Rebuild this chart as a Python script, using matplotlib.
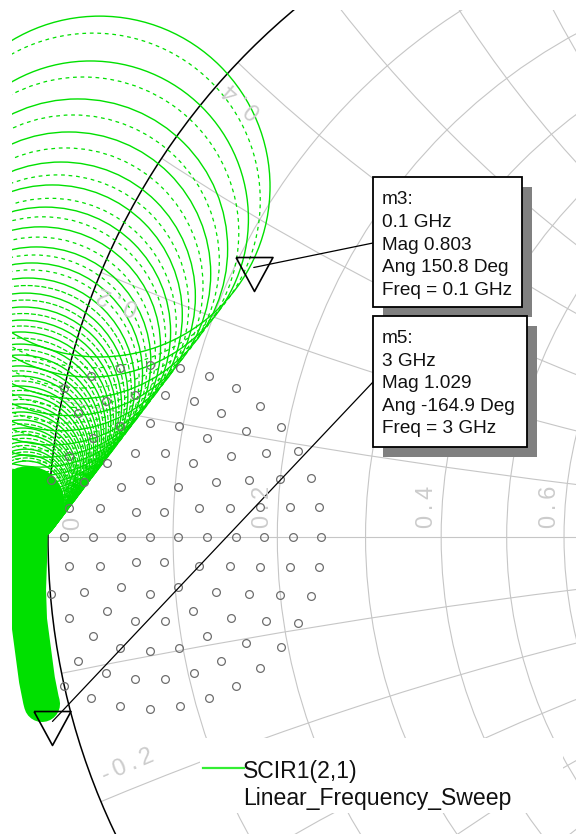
import numpy as np
import matplotlib
matplotlib.use("Agg")
import matplotlib.pyplot as plt
from matplotlib.patches import Circle, Rectangle, ConnectionPatch

plt.rcParams['font.family'] = ['Liberation Sans', 'DejaVu Sans']

# ---------------- SCIR1(2,1), Linear_Frequency_Sweep ----------------
# successive loops of the trace (centre re, centre im, radius) in the reflection plane
loop_re = [-0.9250, -0.9384, -0.9568, -0.9696, -0.9811, -0.9938, -1.0035, -1.0110,
           -1.0169, -1.0235, -1.0292, -1.0330, -1.0359, -1.0375, -1.0398, -1.0404,
           -1.0416, -1.0410, -1.0411, -1.0411, -1.0403, -1.0392, -1.0390, -1.0388,
           -1.0366, -1.0353, -1.0340, -1.0326, -1.0318, -1.0312, -1.0288, -1.0270,
           -1.0251, -1.0234, -1.0218, -1.0205, -1.0196, -1.0186]
loop_im = [0.5094, 0.4622, 0.4188, 0.3826, 0.3497, 0.3227, 0.2978, 0.2762,
           0.2552, 0.2374, 0.2209, 0.2054, 0.1914, 0.1788, 0.1669, 0.1557,
           0.1452, 0.1356, 0.1265, 0.1173, 0.1097, 0.1020, 0.0949, 0.0878,
           0.0815, 0.0760, 0.0703, 0.0645, 0.0596, 0.0544, 0.0503, 0.0465,
           0.0429, 0.0392, 0.0356, 0.0324, 0.0294, 0.0263]
loop_rad = [0.2477, 0.2297, 0.2179, 0.2061, 0.1953, 0.1890, 0.1817, 0.1746,
            0.1664, 0.1609, 0.1555, 0.1491, 0.1429, 0.1365, 0.1311, 0.1247,
            0.1193, 0.1131, 0.1076, 0.1022, 0.0968, 0.0913, 0.0868, 0.0823,
            0.0769, 0.0724, 0.0679, 0.0632, 0.0597, 0.0561, 0.0516, 0.0480,
            0.0443, 0.0407, 0.0371, 0.0343, 0.0317, 0.0289]
# fainter in-between loops
sub_re = [-0.9347, -0.9487, -0.9635, -0.9746, -0.9863, -0.9969, -1.0074, -1.0147,
          -1.0202, -1.0259, -1.0311, -1.0345, -1.0367, -1.0387, -1.0401, -1.0410,
          -1.0413, -1.0411, -1.0411, -1.0407, -1.0398, -1.0391, -1.0389, -1.0377,
          -1.0360, -1.0347, -1.0333, -1.0322, -1.0315]
sub_im = [0.4892, 0.4426, 0.4009, 0.3656, 0.3355, 0.3090, 0.2871, 0.2651,
          0.2462, 0.2299, 0.2132, 0.1984, 0.1851, 0.1729, 0.1613, 0.1505,
          0.1404, 0.1311, 0.1219, 0.1135, 0.1059, 0.0985, 0.0914, 0.0847,
          0.0788, 0.0732, 0.0674, 0.0621, 0.0570]
sub_rad = [0.2432, 0.2260, 0.2125, 0.1999, 0.1908, 0.1833, 0.1783, 0.1708,
           0.1637, 0.1583, 0.1523, 0.1460, 0.1397, 0.1338, 0.1279, 0.1220,
           0.1162, 0.1104, 0.1049, 0.0995, 0.0941, 0.0891, 0.0846, 0.0796,
           0.0747, 0.0702, 0.0656, 0.0615, 0.0579]
# high-frequency end: tightly packed loops along the rim
band_re = [-1.0262, -1.0276, -1.0291, -1.0276, -1.0218, -1.0160, -1.0102, -1.0087]
band_im = [0.0247, -0.0334, -0.0770, -0.1206, -0.1642, -0.2078, -0.2369, -0.2427]

# markers
m3_freq, m3_mag, m3_ang = 0.1, 0.803, 150.8
m5_freq, m5_mag, m5_ang = 3, 1.029, -164.9

# reflection point set (polar rings around a centre point)
pts_center = -0.852
ring_radius = [0.0, 0.0416, 0.0831, 0.1247, 0.1663, 0.2079, 0.2494]
ring_angles = [
    [0],
    [0, 60, 120, 180, 240, 300],
    [0, 30, 60, 90, 120, 150, 180, 210, 240, 270, 300, 330],
    [0, 20, 40, 60, 80, 100, 120, 140, 160, 180, 200, 220, 240, 260, 280, 300, 320, 340],
    [0, 15, 30, 45, 60, 75, 90, 105, 120, 135, 150, 210, 225, 240, 255, 270, 285, 300,
     315, 330, 345],
    [0, 12, 24, 36, 48, 60, 72, 84, 96, 108, 120, 240, 252, 264, 276, 288, 300, 312,
     324, 336, 348],
    [0, 10, 20, 30, 40, 50, 60, 70, 80, 90, 100, 110, 120, 240, 250, 260, 270, 280, 290,
     300, 310, 320, 330, 340, 350],
]

# Smith chart grid
r_grid = [0.1, 0.2, 0.3, 0.4, 0.5, 0.6, 0.7, 0.8, 0.9, 1.0]
x_grid = [0.1, 0.2, 0.3, 0.4, 0.5, 0.6, 0.7, 0.8, 0.9, 1.0,
          -0.1, -0.2, -0.3, -0.4, -0.5, -0.6, -0.7, -0.8, -0.9, -1.0]

legend_lines = ["SCIR1(2,1)", "Linear_Frequency_Sweep"]
m3_text = ["m3:", f"{m3_freq} GHz", f"Mag {m3_mag}", f"Ang {m3_ang} Deg", f"Freq = {m3_freq} GHz"]
m5_text = ["m5:", f"{m5_freq} GHz", f"Mag {m5_mag}", f"Ang {m5_ang} Deg", f"Freq = {m5_freq} GHz"]

# ---------------------------------------------------------------------
W, H = 576, 834
GREEN = '#00e000'
GRID = '#c6c6c6'
LABEL = '#cccccc'

fig = plt.figure(figsize=(W / 100, H / 100), dpi=100)
ax = fig.add_axes([12 / W, 0, (W - 12) / W, (H - 10) / H])
ax.set_xlim(-1.0523, -0.2326)
ax.set_ylim(-0.4317, 0.7660)
ax.axis('off')

unit_clip = Circle((0, 0), 1, transform=ax.transData)

for r in r_grid:
    ax.add_patch(Circle((r / (1 + r), 0), 1 / (1 + r), fill=False, ec=GRID, lw=0.8, zorder=1))
for x in x_grid:
    p = Circle((1, 1 / x), 1 / abs(x), fill=False, ec=GRID, lw=0.8, zorder=1)
    ax.add_patch(p)
    p.set_clip_path(unit_clip)
ax.plot([-1, 1], [0, 0], color=GRID, lw=0.8, zorder=1)

ax.add_patch(Circle((0, 0), 1, fill=False, ec='black', lw=1.1, zorder=2))

# trace
for i, (cx, cy, rr) in enumerate(zip(loop_re, loop_im, loop_rad)):
    filled = i >= 30
    ax.add_patch(Circle((cx, cy), rr, fill=filled, fc=GREEN, ec=GREEN, lw=1.0, zorder=3))
for i, (cx, cy, rr) in enumerate(zip(sub_re, sub_im, sub_rad)):
    ls = (0, (3, 3)) if i < 10 else (0, (4, 1.5))
    ax.add_patch(Circle((cx, cy), rr, fill=False, ec=GREEN, lw=0.9, ls=ls, zorder=3))
ax.plot(band_re, band_im, color=GREEN, lw=26, solid_capstyle='round',
        solid_joinstyle='round', zorder=3)

# point set
for rad, angs in zip(ring_radius, ring_angles):
    a = np.radians(angs)
    ax.plot(pts_center + rad * np.cos(a), rad * np.sin(a), ls='none', marker='o', ms=5.6,
            mfc='none', mec='#6e6e6e', mew=0.9, zorder=5)

# markers
tri = [(-18.5, 10), (18.5, 10), (0, -24), (-18.5, 10)]
m3_pt = (m3_mag * np.cos(np.radians(m3_ang)), m3_mag * np.sin(np.radians(m3_ang)))
m5_pt = (m5_mag * np.cos(np.radians(m5_ang)), m5_mag * np.sin(np.radians(m5_ang)))
for pt in (m3_pt, m5_pt):
    ax.plot([pt[0]], [pt[1]], marker=tri, ms=34.5, mfc='none', mec='black', mew=1.2,
            zorder=6, clip_on=False)

# overlay in pixel units for boxes, labels and legend
ov = fig.add_axes([0, 0, 1, 1])
ov.set_xlim(0, W)
ov.set_ylim(H, 0)
ov.axis('off')

# scale labels
TS = '\u2009'
lab_kw = dict(color=LABEL, fontsize=17, ha='center', va='center')
ov.text(73, 523, "0", rotation=90, **lab_kw)
ov.text(263, 507, TS.join("0.2"), rotation=90, **lab_kw)
ov.text(427, 507, TS.join("0.4"), rotation=90, **lab_kw)
ov.text(550, 507, TS.join("0.6"), rotation=90, **lab_kw)
ov.text(243, 100, TS.join("0.4"), rotation=139, **lab_kw)
ov.text(118, 300, TS.join("0.2"), rotation=158, **lab_kw)
ov.text(128, 766, TS.join("-0.2"), rotation=23, **lab_kw)

# leader lines
for pt, end in ((m3_pt, (373, 243)), (m5_pt, (373, 382))):
    cp = ConnectionPatch(xyA=pt, coordsA=ax.transData, xyB=end, coordsB=ov.transData,
                         color='black', lw=0.9, zorder=2)
    ov.add_artist(cp)


def marker_box(x0, y0, x1, y1, lines, base0, step):
    ov.add_patch(Rectangle((x0 + 10, y0 + 10), x1 - x0, y1 - y0, fc='#808080', ec='none', zorder=3))
    ov.add_patch(Rectangle((x0, y0), x1 - x0, y1 - y0, fc='white', ec='black', lw=1.3, zorder=4))
    for k, s in enumerate(lines):
        ov.text(382, base0 + k * step, s, fontsize=13.7, ha='left', va='baseline',
                color='#111111', zorder=5)


marker_box(373, 177, 522, 307, m3_text, 204, 22.8)
marker_box(373, 316, 527, 447, m5_text, 343, 22.6)

# legend
ov.add_patch(Rectangle((200, 738), 363, 75, fc='white', ec='none', zorder=3))
ov.plot([203, 244], [768, 768], color='#33ee33', lw=1.6, zorder=4)
ov.text(243, 778, legend_lines[0], fontsize=16.6, ha='left', va='baseline', color='#111111', zorder=5)
ov.text(243, 805, legend_lines[1], fontsize=16.6, ha='left', va='baseline', color='#111111', zorder=5)

fig.savefig('out.png', dpi=100, facecolor='white')
